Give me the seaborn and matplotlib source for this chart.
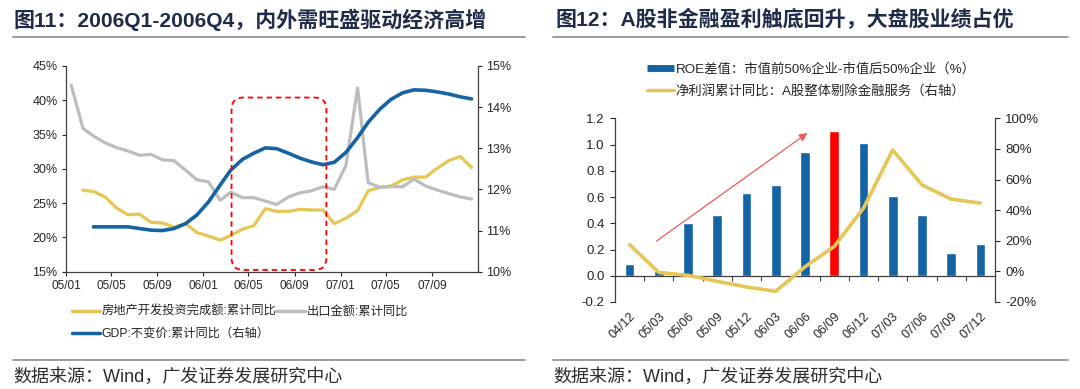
import numpy as np
import pandas as pd
import matplotlib
matplotlib.use("Agg")
import matplotlib.pyplot as plt
import matplotlib.dates as mdates
from matplotlib.patches import FancyBboxPatch
from matplotlib.lines import Line2D
from matplotlib.ticker import FuncFormatter
import seaborn as sns

# ---------------- data: 图11 (monthly, cumulative yoy, %) ----------------
months = pd.date_range("2005-01-01", periods=36, freq="MS") + pd.Timedelta(days=14)
export_yoy = [42.2, 35.9, 34.8, 33.8, 33.1, 32.6, 32.0, 32.1, 31.3, 31.2, 29.8, 28.4,
              28.1, 25.4, 26.6, 25.8, 25.8, 25.3, 24.8, 25.9, 26.5, 26.8, 27.4, 27.0,
              30.5, 41.8, 28.0, 27.3, 27.4, 27.4, 28.5, 27.5, 26.9, 26.4, 25.9, 25.6]
# starts 2005-02
realestate_yoy = [26.9, 26.7, 25.9, 24.3, 23.3, 23.4, 22.2, 22.1, 21.5, 22.0, 20.7,
                  20.2, 19.6, 20.3, 21.2, 21.7, 24.2, 23.8, 23.8, 24.1, 24.0, 24.0,
                  22.0, 22.8, 23.9, 26.8, 27.3, 27.5, 28.4, 28.8, 28.8, 30.1, 31.2,
                  31.8, 30.2]
# starts 2005-03, right axis
gdp_yoy = [11.09, 11.09, 11.09, 11.09, 11.05, 11.01, 11.00, 11.05, 11.17, 11.38,
           11.70, 12.11, 12.47, 12.73, 12.88, 13.01, 12.99, 12.88, 12.76, 12.67,
           12.60, 12.66, 12.90, 13.26, 13.63, 13.95, 14.19, 14.35, 14.42, 14.41,
           14.37, 14.32, 14.25, 14.20]
left_labels = ["房地产开发投资完成额:累计同比", "GDP:不变价:累计同比（右轴）", "出口金额:累计同比"]

# ---------------- data: 图12 ----------------
quarters = ["04/12", "05/03", "05/06", "05/09", "05/12", "06/03", "06/06",
            "06/09", "06/12", "07/03", "07/06", "07/09", "07/12"]
roe_diff = [0.09, 0.035, 0.40, 0.46, 0.63, 0.69, 0.94, 1.10, 1.01, 0.61, 0.46, 0.17, 0.24]
profit_yoy = [17.4, -0.7, -2.6, -6.5, -10.2, -13.0, 3.0, 16.3, 41.3, 79.3, 56.5, 47.2, 44.6]
highlight = "06/09"
right_labels = ["ROE差值：市值前50%企业-市值后50%企业（%）", "净利润累计同比：A股整体剔除金融服务（右轴）"]

BLUE = "#1464a5"
GRAY = "#bdbdbd"
YELLOW = "#e6c654"
RED = "#ff0000"
NAVY = "#1f2b48"
TXT = "#262626"

sns.set_theme(style="white")
plt.rcParams["font.family"] = ["Liberation Sans", "Noto Sans CJK SC", "DejaVu Sans"]
plt.rcParams["axes.unicode_minus"] = False

W, H = 1080, 389
fig = plt.figure(figsize=(W / 100, H / 100), dpi=100)


def box(l, t, r, b):
    return [l / W, 1 - b / H, (r - l) / W, (b - t) / H]


# ================= left chart =================
ax1 = fig.add_axes(box(66, 66, 478, 271.7))
ax1r = ax1.twinx()
sns.lineplot(x=months[1:], y=realestate_yoy, ax=ax1, color=YELLOW, lw=2.3)
sns.lineplot(x=months, y=export_yoy, ax=ax1, color=GRAY, lw=2.3)
sns.lineplot(x=months[2:], y=gdp_yoy, ax=ax1r, color=BLUE, lw=2.6)

ax1.set_xlim(pd.Timestamp("2005-01-01"), pd.Timestamp("2008-01-01"))
ax1.set_ylim(15, 45)
ax1.set_yticks(np.arange(15, 46, 5))
ax1r.set_ylim(10, 15)
ax1r.set_yticks(np.arange(10, 16, 1))
pct = FuncFormatter(lambda v, p: f"{v:.0f}%")
ax1.yaxis.set_major_formatter(pct)
ax1r.yaxis.set_major_formatter(pct)
ax1.set_xticks(pd.date_range("2005-01-01", "2007-09-01", freq="4MS"))
ax1.xaxis.set_major_formatter(mdates.DateFormatter("%y/%m"))
for a in (ax1, ax1r):
    a.set_xlabel("")
    a.set_ylabel("")
    a.spines["top"].set_visible(False)
    for s in a.spines.values():
        s.set_color("#404040")
        s.set_linewidth(0.9)
ax1.spines["right"].set_visible(False)
ax1r.spines["left"].set_visible(False)
ax1r.spines["bottom"].set_visible(False)
ax1.tick_params(axis="y", left=True, length=3, width=0.8, pad=3, labelsize=9, colors=TXT)
ax1.tick_params(axis="x", bottom=True, length=3, width=0.8, pad=3, labelsize=8.5, colors=TXT)
ax1r.tick_params(axis="y", right=True, length=3, width=0.8, pad=3, labelsize=9, colors=TXT)

# red dashed rounded box around 2006
x0 = mdates.date2num(pd.Timestamp("2006-03-17"))
x1 = mdates.date2num(pd.Timestamp("2006-11-24"))
rbox = FancyBboxPatch((x0, 15.25), x1 - x0, 40.4 - 15.25,
                      boxstyle="round,pad=0,rounding_size=32", mutation_aspect=0.0547,
                      transform=ax1.transData, fill=False, edgecolor=RED,
                      linestyle=(0, (3, 2.2)), lw=1.3, zorder=5)
ax1r.add_patch(rbox)

h_left = [Line2D([], [], color=YELLOW, lw=2.5), Line2D([], [], color=BLUE, lw=2.5),
          Line2D([], [], color=GRAY, lw=2.5)]
fig.legend(h_left, left_labels, ncol=2, loc="upper left",
           bbox_to_anchor=(71.6 / W, 1 - 306 / H), frameon=False, fontsize=8.8,
           handlelength=2.3, handletextpad=0.15, columnspacing=0.0,
           labelspacing=0.8, borderpad=0, borderaxespad=0)

# ================= right chart =================
ax2 = fig.add_axes(box(615, 118.3, 995, 302))
ax2r = ax2.twinx()
df2 = pd.DataFrame({"q": quarters, "roe": roe_diff})
pal = {q: (RED if q == highlight else BLUE) for q in quarters}
sns.barplot(data=df2, x="q", y="roe", hue="q", palette=pal, legend=False,
            width=0.33, saturation=1, ax=ax2, zorder=2)
sns.lineplot(x=np.arange(len(quarters)), y=profit_yoy, ax=ax2r, color=YELLOW, lw=2.6)

ax2.set_xlim(-0.5, len(quarters) - 0.5)
ax2.set_ylim(-0.2, 1.2)
ax2.set_yticks(np.arange(-0.2, 1.21, 0.2))
ax2.yaxis.set_major_formatter(FuncFormatter(lambda v, p: f"{v:.1f}"))
ax2r.set_ylim(-20, 100)
ax2r.set_yticks(np.arange(-20, 101, 20))
ax2r.yaxis.set_major_formatter(pct)
ax2.set_xticks(np.arange(len(quarters)))
ax2.set_xticklabels(quarters)
ax2.set_xticks(np.arange(0.5, len(quarters) - 1, 1), minor=True)
for a in (ax2, ax2r):
    a.set_xlabel("")
    a.set_ylabel("")
    a.spines["top"].set_visible(False)
    for s in a.spines.values():
        s.set_color("#404040")
        s.set_linewidth(0.9)
ax2.spines["right"].set_visible(False)
ax2.spines["bottom"].set_position(("data", 0))
ax2r.spines["left"].set_visible(False)
ax2r.spines["bottom"].set_visible(False)
ax2.tick_params(axis="x", which="major", bottom=True, length=0, pad=25, labelsize=9, colors=TXT)
ax2.tick_params(axis="x", which="minor", bottom=True, length=3.5, width=0.8, color="#404040")
ax2.tick_params(axis="y", left=True, length=3.5, width=0.8, pad=4, labelsize=9.5, colors=TXT)
ax2r.tick_params(axis="y", right=True, length=3.5, width=0.8, pad=4, labelsize=9.5, colors=TXT)

ax2.annotate("", xy=(6.16, 1.10), xytext=(0.83, 0.25),
             arrowprops=dict(arrowstyle="-|>", color="#f05a5a", lw=0.9, mutation_scale=12))

h_right = [Line2D([], [], color=BLUE, lw=5, solid_capstyle="butt"),
           Line2D([], [], color=YELLOW, lw=2.5)]
fig.legend(h_right, right_labels, ncol=1, loc="upper left",
           bbox_to_anchor=(647 / W, 1 - 63 / H), frameon=False, fontsize=9.6,
           handlelength=2.0, handletextpad=0.15, labelspacing=0.7,
           borderpad=0, borderaxespad=0)

# ================= titles, rules, sources =================
fig.text(13.8 / W, 1 - 19.7 / H, "图11：2006Q1-2006Q4，内外需旺盛驱动经济高增",
         fontsize=15.1, fontweight="bold", color=NAVY, va="center", ha="left")
fig.text(555.6 / W, 1 - 19.7 / H, "图12：A股非金融盈利触底回升，大盘股业绩占优",
         fontsize=15.1, fontweight="bold", color=NAVY, va="center", ha="left")
for (xa, xb) in [(13, 525), (553, 1068)]:
    for yy in (37, 360):
        fig.add_artist(Line2D([xa / W, xb / W], [1 - yy / H] * 2, transform=fig.transFigure,
                              color="#8c8c8c", lw=1.2))
    fig.text(xa / W, 1 - 376.5 / H, "数据来源：Wind，广发证券发展研究中心",
             fontsize=13, color="#2e2e2e", va="center", ha="left")

# rotated quarter labels (set last so nothing resets them)
for lab in ax2.get_xticklabels():
    lab.set_rotation(45)
    lab.set_horizontalalignment("right")
    lab.set_rotation_mode("anchor")

fig.savefig("out.png", dpi=100)
